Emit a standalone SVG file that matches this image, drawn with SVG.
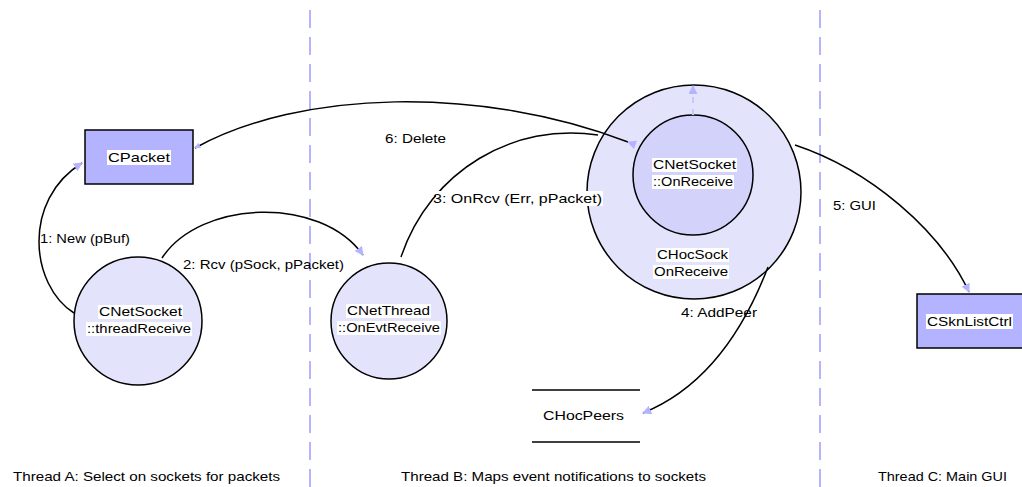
<svg xmlns="http://www.w3.org/2000/svg" width="1022" height="487" viewBox="0 0 1022 487">
  <style>
    text { font-family: "Liberation Sans", Arial, sans-serif; font-size: 13px; fill: #000; }
    .lane { stroke: #b4b4ff; stroke-width: 2; stroke-dasharray: 18 9; fill: none; }
    .cls { fill: #b3b3ff; stroke: #000; stroke-width: 1.5; }
    .obj { fill: #e3e3fc; stroke: #000; stroke-width: 1.5; }
    .inner { fill: #d2d2fa; stroke: #000; stroke-width: 1.5; }
    .store { stroke: #000; stroke-width: 1.5; }
    .bg { fill: #fff; }
    .msg { fill: none; stroke: #000; stroke-width: 1.5; }
    .self { fill: none; stroke: #c8c8ff; stroke-width: 2; stroke-dasharray: 6 6; }
  </style>
  <defs>
    <marker id="head" viewBox="0 0 10 10" refX="9" refY="5" markerWidth="9" markerHeight="9" markerUnits="userSpaceOnUse" orient="auto">
      <path d="M0,0 L10,5 L0,10 z" fill="#b3b3ff"/>
    </marker>
    <marker id="tip" viewBox="0 0 10 10" refX="9" refY="5" markerWidth="6" markerHeight="6" markerUnits="userSpaceOnUse" orient="auto">
      <path d="M0,0 L10,5 L0,10 z" fill="#b3b3ff"/>
    </marker>
  </defs>

  <!-- thread swimlane separators -->
  <g id="lanes">
    <line class="lane" x1="310" y1="10" x2="310" y2="487"/>
    <line class="lane" x1="820" y1="10" x2="820" y2="487"/>
  </g>

  <!-- nodes -->
  <g id="cpacket">
    <rect class="cls" x="85" y="130" width="108" height="54"/>
    <rect class="bg" x="107" y="150" width="64" height="15"/>
    <text x="108" y="162" textLength="62" lengthAdjust="spacingAndGlyphs">CPacket</text>
  </g>

  <g id="netsocket-threadreceive">
    <circle class="obj" cx="138" cy="321" r="64"/>
    <rect class="bg" x="98" y="305" width="85" height="14"/>
    <rect class="bg" x="86" y="322" width="106" height="14"/>
    <text x="99" y="316" textLength="83" lengthAdjust="spacingAndGlyphs">CNetSocket</text>
    <text x="87" y="333" textLength="104" lengthAdjust="spacingAndGlyphs">::threadReceive</text>
  </g>

  <g id="netthread-onevtreceive">
    <circle class="obj" cx="389" cy="321" r="58"/>
    <rect class="bg" x="346" y="304" width="85" height="14"/>
    <rect class="bg" x="337" y="321" width="104" height="14"/>
    <text x="347" y="315" textLength="83" lengthAdjust="spacingAndGlyphs">CNetThread</text>
    <text x="338" y="332" textLength="102" lengthAdjust="spacingAndGlyphs">::OnEvtReceive</text>
  </g>

  <g id="hocsock-onreceive">
    <circle class="obj" cx="694" cy="192" r="107"/>
    <rect class="bg" x="656" y="248" width="73" height="14"/>
    <rect class="bg" x="653" y="265" width="76" height="14"/>
    <text x="657" y="259" textLength="71" lengthAdjust="spacingAndGlyphs">CHocSock</text>
    <text x="654" y="276" textLength="74" lengthAdjust="spacingAndGlyphs">OnReceive</text>
  </g>

  <g id="netsocket-onreceive">
    <circle class="inner" cx="693" cy="175" r="60"/>
    <rect class="bg" x="652" y="158" width="85" height="14"/>
    <rect class="bg" x="652" y="175" width="82" height="14"/>
    <text x="653" y="169" textLength="83" lengthAdjust="spacingAndGlyphs">CNetSocket</text>
    <text x="653" y="186" textLength="80" lengthAdjust="spacingAndGlyphs">::OnReceive</text>
  </g>

  <g id="sknlistctrl">
    <rect class="cls" x="917" y="294" width="115" height="54"/>
    <rect class="bg" x="926" y="314" width="87" height="15"/>
    <text x="927" y="326" textLength="85" lengthAdjust="spacingAndGlyphs">CSknListCtrl</text>
  </g>

  <g id="hocpeers">
    <line class="store" x1="532" y1="390" x2="640" y2="390"/>
    <line class="store" x1="532" y1="442" x2="640" y2="442"/>
    <text x="543" y="420" textLength="81" lengthAdjust="spacingAndGlyphs">CHocPeers</text>
  </g>

  <!-- messages between objects -->
  <g id="connectors">
    <path class="msg" d="M74,313 C30,285 22,200 82,163" marker-end="url(#head)"/>
    <path class="msg" d="M162,258 C200,200 320,195 363,255" marker-end="url(#head)"/>
    <path class="msg" d="M401,257 C430,170 515,122 598,135"/>
    <path class="msg" d="M628,142 C480,85 300,90 195,148" marker-start="url(#head)" marker-end="url(#tip)"/>
    <path class="msg" d="M795,145 C870,170 940,230 969,292" marker-end="url(#head)"/>
    <path class="msg" d="M768,267 C740,340 700,390 643,413" marker-end="url(#head)"/>
    <path class="self" d="M693,115 L693,86" marker-end="url(#head)"/>
  </g>

  <!-- message labels -->
  <g id="labels">
    <text x="40" y="243" textLength="90" lengthAdjust="spacingAndGlyphs">1: New (pBuf)</text>
    <text x="183" y="269" textLength="161" lengthAdjust="spacingAndGlyphs">2: Rcv (pSock, pPacket)</text>
    <rect class="bg" x="436" y="191" width="167" height="15"/>
    <text x="433" y="203" textLength="169" lengthAdjust="spacingAndGlyphs">3: OnRcv (Err, pPacket)</text>
    <text x="681" y="317" textLength="76" lengthAdjust="spacingAndGlyphs">4: AddPeer</text>
    <text x="833" y="210" textLength="43" lengthAdjust="spacingAndGlyphs">5: GUI</text>
    <text x="385" y="143" textLength="61" lengthAdjust="spacingAndGlyphs">6: Delete</text>
  </g>

  <!-- lane titles -->
  <g id="lane-titles">
    <text x="13" y="481" textLength="267" lengthAdjust="spacingAndGlyphs">Thread A: Select on sockets for packets</text>
    <text x="401" y="481" textLength="305" lengthAdjust="spacingAndGlyphs">Thread B: Maps event notifications to sockets</text>
    <text x="878" y="481" textLength="129" lengthAdjust="spacingAndGlyphs">Thread C: Main GUI</text>
  </g>
</svg>
